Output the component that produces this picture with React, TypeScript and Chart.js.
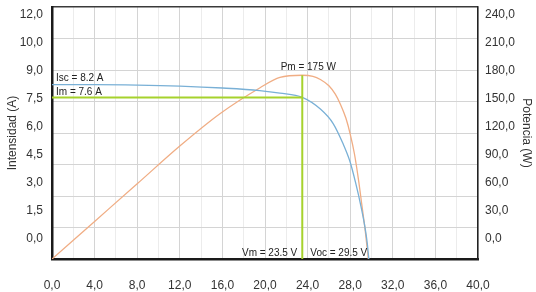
import React, { useEffect, useRef } from 'react';
import { Chart, registerables } from 'chart.js';

Chart.register(...registerables);

// I-V curve (voltage in V, current in A)
const VOLTS_IV = [0, 4, 8, 12, 16, 19.5, 21.4, 23.5, 25.2, 26.4, 27.3, 28.0, 28.5, 29.0, 29.4, 29.6, 29.75];
const AMPS_IV = [8.2, 8.2, 8.18, 8.13, 8.04, 7.92, 7.8, 7.6, 7.05, 6.37, 5.45, 4.55, 3.6, 2.5, 1.45, 0.75, 0];

// P-V curve (voltage in V, power in W)
const VOLTS_PV = [0, 4, 8, 12, 15.8, 19.5, 21.4, 23.5, 24.5, 25.2, 26.0, 26.6, 27.1, 27.6, 28.0, 28.4, 28.8, 29.1, 29.4, 29.7];
const WATTS_PV = [0, 35.8, 71.6, 107.6, 138.6, 162.9, 173, 175, 174, 171, 165, 157, 147, 134, 119, 100, 74, 51, 28, 0];

// Key points
const ISC = 8.2;
const IM = 7.6;
const PM = 175;
const VM = 23.5;
const VOC = 29.5;

// Axis ticks / labels
const X_TICKS = [0, 2, 4, 6, 8, 10, 12, 14, 16, 18, 20, 22, 24, 26, 28, 30, 32, 34, 36, 38, 40];
const POWER_GRID = [0, 30, 60, 90, 120, 150, 180, 210, 240];
const LEFT_TICK_LABELS = ['0,0', '1,5', '3,0', '4,5', '6,0', '7,5', '9,0', '10,0', '12,0'];
const RIGHT_TICK_LABELS = ['0,0', '30,0', '60,0', '90,0', '120,0', '150,0', '180,0', '210,0', '240,0'];

const FONT = "'Liberation Sans', Arial, sans-serif";
const BLUE = '#79b0d6';
const ORANGE = '#f0ad84';
const GREEN = '#a6d22c';

const annotationPlugin = {
  id: 'pvAnnotations',
  afterDatasetsDraw(chart: any) {
    const { ctx, chartArea } = chart;
    const x = chart.scales.x;
    const y = chart.scales.y;
    const y1 = chart.scales.y1;
    ctx.save();
    ctx.font = `10px ${FONT}`;
    ctx.fillStyle = '#222';
    ctx.textBaseline = 'alphabetic';
    ctx.textAlign = 'left';
    ctx.fillText(`Isc = ${ISC} A`, x.getPixelForValue(0) + 4, y.getPixelForValue(ISC) - 4);
    ctx.fillText(`Im = ${IM} A`, x.getPixelForValue(0) + 4, y.getPixelForValue(IM) - 2);
    ctx.textAlign = 'center';
    ctx.fillText(`Pm = ${PM} W`, x.getPixelForValue(VM) + 6, y1.getPixelForValue(PM) - 5);
    ctx.textAlign = 'right';
    ctx.fillText(`Vm = ${VM} V`, x.getPixelForValue(VM) - 5, chartArea.bottom - 3);
    ctx.textAlign = 'left';
    ctx.fillText(`Voc = ${VOC} V`, x.getPixelForValue(VM) + 8, chartArea.bottom - 3);
    ctx.restore();
  },
};

const noEdgePadding = (s: any) => {
  s.paddingTop = 0;
  s.paddingBottom = 0;
};

export default function App() {
  const canvasRef = useRef<HTMLCanvasElement | null>(null);

  useEffect(() => {
    if (!canvasRef.current) return;
    const ivData = VOLTS_IV.map((v, i) => ({ x: v, y: AMPS_IV[i] }));
    const pvData = VOLTS_PV.map((v, i) => ({ x: v, y: WATTS_PV[i] }));

    const chart = new Chart(canvasRef.current, {
      type: 'line',
      data: {
        datasets: [
          {
            label: 'Im',
            data: [{ x: 0, y: IM }, { x: VM, y: IM }],
            yAxisID: 'y',
            borderColor: GREEN,
            borderWidth: 2,
            pointRadius: 0,
            tension: 0,
            order: 0,
          },
          {
            label: 'Vm',
            data: [{ x: VM, y: 0 }, { x: VM, y: PM }],
            yAxisID: 'y1',
            borderColor: GREEN,
            borderWidth: 2,
            pointRadius: 0,
            tension: 0,
            order: 0,
          },
          {
            label: 'I-V',
            data: ivData,
            yAxisID: 'y',
            borderColor: BLUE,
            borderWidth: 1.3,
            pointRadius: 0,
            cubicInterpolationMode: 'monotone',
            order: 1,
          },
          {
            label: 'P-V',
            data: pvData,
            yAxisID: 'y1',
            borderColor: ORANGE,
            borderWidth: 1.3,
            pointRadius: 0,
            cubicInterpolationMode: 'monotone',
            order: 1,
          },
        ],
      },
      options: {
        responsive: false,
        animation: false,
        devicePixelRatio: 1,
        layout: { padding: { top: 7, left: 0, right: 0, bottom: 0 } },
        plugins: {
          legend: { display: false },
          tooltip: { enabled: false },
          title: { display: false },
        },
        scales: {
          x: {
            type: 'linear',
            position: 'bottom',
            min: 0,
            max: 40,
            afterBuildTicks: (s: any) => {
              s.ticks = X_TICKS.map((v) => ({ value: v }));
            },
            afterFit: (s: any) => {
              s.height = 33;
              s.paddingLeft = 0;
              s.paddingRight = 0;
            },
            ticks: {
              autoSkip: false,
              maxRotation: 0,
              padding: 19,
              color: '#333',
              font: { family: FONT, size: 12 },
              callback: (v: any) => (Number(v) % 4 === 0 ? Number(v).toFixed(1).replace('.', ',') : ''),
            },
            grid: {
              drawTicks: false,
              color: (c: any) => (c.tick && c.tick.value % 4 === 0 ? '#d4d4d4' : '#ececec'),
              lineWidth: 1,
            },
            border: { display: true, color: '#1a1a1a', width: 2.5 },
          },
          y: {
            type: 'linear',
            position: 'left',
            display: false,
            min: 0,
            max: 11.85,
          },
          yL: {
            type: 'linear',
            position: 'left',
            weight: 1,
            min: -0.714,
            max: 8.286,
            afterBuildTicks: (s: any) => {
              s.ticks = LEFT_TICK_LABELS.map((_, i) => ({ value: i }));
            },
            afterFit: (s: any) => {
              s.width = 52;
              noEdgePadding(s);
            },
            ticks: {
              padding: 9,
              color: '#333',
              font: { family: FONT, size: 12 },
              callback: (v: any) => LEFT_TICK_LABELS[Math.round(Number(v))] ?? '',
            },
            grid: { display: false, drawTicks: false },
            border: { display: true, color: '#1a1a1a', width: 2.5 },
            title: {
              display: true,
              text: 'Intensidad (A)',
              color: '#333',
              font: { family: FONT, size: 12 },
              padding: { top: 5, bottom: 0 },
            },
          },
          y1: {
            type: 'linear',
            position: 'right',
            weight: 0,
            min: 0,
            max: 240,
            afterBuildTicks: (s: any) => {
              s.ticks = POWER_GRID.map((v) => ({ value: v }));
            },
            afterFit: (s: any) => {
              s.width = 0;
              noEdgePadding(s);
            },
            ticks: { display: false },
            grid: {
              drawTicks: false,
              color: (c: any) => (c.tick && c.tick.value === 240 ? '#3a3a3a' : '#d4d4d4'),
              lineWidth: (c: any) => (c.tick && c.tick.value === 240 ? 1.5 : 1),
            },
            border: { display: true, color: '#222', width: 1.5 },
          },
          yR: {
            type: 'linear',
            position: 'right',
            weight: 1,
            min: -0.714,
            max: 8.286,
            afterBuildTicks: (s: any) => {
              s.ticks = RIGHT_TICK_LABELS.map((_, i) => ({ value: i }));
            },
            afterFit: (s: any) => {
              s.width = 58;
              noEdgePadding(s);
            },
            ticks: {
              padding: 7,
              color: '#333',
              font: { family: FONT, size: 12 },
              callback: (v: any) => RIGHT_TICK_LABELS[Math.round(Number(v))] ?? '',
            },
            grid: { display: false, drawTicks: false },
            border: { display: false },
            title: {
              display: true,
              text: 'Potencia (W)',
              color: '#333',
              font: { family: FONT, size: 12 },
              padding: { top: 2, bottom: 0 },
            },
          },
        },
      } as any,
      plugins: [annotationPlugin],
    });

    return () => {
      chart.destroy();
    };
  }, []);

  return (
    <div style={{ position: 'absolute', left: 0, top: 0, width: 536, height: 292, background: '#fff' }}>
      <canvas ref={canvasRef} width={536} height={292} style={{ display: 'block', width: 536, height: 292 }} />
    </div>
  );
}
